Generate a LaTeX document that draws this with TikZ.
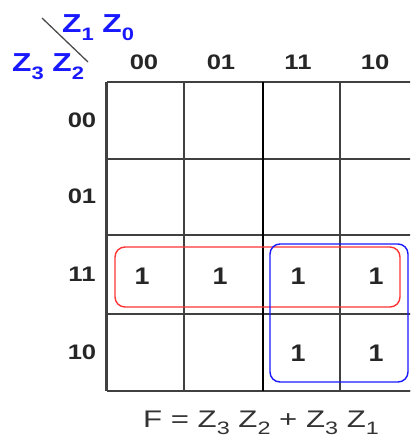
\documentclass[tikz,border=0pt]{standalone}
\usepackage{fontspec}
\setmainfont{Liberation Sans}
\newfontfamily\widefont[FakeStretch=1.22]{Liberation Sans}
\newfontfamily\widerfont[FakeStretch=1.3]{Liberation Sans}
\newfontfamily\onefont[FakeStretch=1.12]{Liberation Sans}
\newcommand{\lowsub}[2]{\raisebox{-0.32em}{\fontsize{#1}{#1}\selectfont #2}}
\begin{document}
\begin{tikzpicture}[x=1pt,y=-1pt,
  gridline/.style={draw=black!75,line width=1.8pt},
  lbl/.style={font=\widefont\bfseries\fontsize{21}{24}\selectfont,text=black!85,anchor=base,inner sep=0pt},
  one/.style={font=\onefont\bfseries\fontsize{24}{26}\selectfont,text=black!85,anchor=base,inner sep=0pt},
  var/.style={font=\widefont\bfseries\fontsize{26}{28}\selectfont,text=blue!90!white,inner sep=0pt,anchor=base west},
  grp/.style={line width=1.4pt,rounded corners=10pt}]
\useasboundingbox (0,0) rectangle (410,447);
\clip (0,0) rectangle (410,447);
% grid
\foreach \x in {107,184,263,340,418} \draw[gridline] (\x,82) -- (\x,391);
\foreach \y in {82,159,235,314,391} \draw[gridline] (107,\y) -- (418,\y);
\draw[draw=black!75,line width=2.6pt] (106.5,82) -- (106.5,391) (106.5,391) -- (418,391);
\draw[draw=black,line width=2pt] (263,82) -- (263,391);
% labels
\foreach \t/\x in {00/144,01/221,11/298,10/375} \node[lbl] (c\t) at (\x,69) {\t};
\foreach \t/\y in {00/127,01/203,11/281,10/359} \node[lbl] (r\t) at (82,\y) {\t};
% ones
\foreach \x/\n in {142/a,220/b,298/c,376/d} \node[one] (o\n) at (\x,284) {1};
\foreach \x/\n in {298/e,376/f} \node[one] (o\n) at (\x,361) {1};
% groups
\node[grp,draw=red!80!white,minimum width=285pt,minimum height=60pt] (red) at (257.5,277) {};
\node[grp,draw=blue!90!white,minimum width=138pt,minimum height=138pt] (blue) at (339,313) {};
% corner
\coordinate (d1) at (42,18);
\coordinate (d2) at (88,62);
\draw[black!70,line width=1.3pt] (d1) -- (d2);
\node[var] (z10) at (62,32) {Z\lowsub{18}{1}\,\,Z\lowsub{18}{0}};
\node[var] (z32) at (12,71) {Z\lowsub{18}{3}\,\,Z\lowsub{18}{2}};
% formula
\node[font=\widerfont\fontsize{24}{28}\selectfont,text=black!80,anchor=base,inner sep=0pt] (f) at (261,427)
  {F = Z\lowsub{18}{3} Z\lowsub{18}{2} + Z\lowsub{18}{3} Z\lowsub{18}{1}};
\end{tikzpicture}
\end{document}
